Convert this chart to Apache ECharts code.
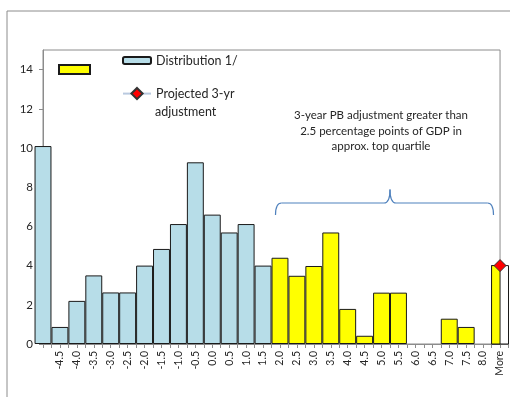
<!DOCTYPE html>
<html>
<head>
<meta charset="utf-8">
<script src="https://cdn.jsdelivr.net/npm/echarts@6/dist/echarts.min.js"></script>
<style>
html,body{margin:0;padding:0;background:#fff;}
#c{width:510px;height:397px;}
</style>
</head>
<body>
<div id="c"></div>
<script>
// ---- data ----
// bin labels (first bin, left of -4.5, is only half visible and unlabelled)
const tickLabels = ['-4.5','-4.0','-3.5','-3.0','-2.5','-2.0','-1.5','-1.0','-0.5','0.0','0.5','1.0','1.5',
                    '2.0','2.5','3.0','3.5','4.0','4.5','5.0','5.5','6.0','6.5','7.0','7.5','8.0','More'];
// Distribution (light blue): first hidden bin, then -4.5 .. 1.5
const distributionValues = [10.1, 0.87, 2.2, 3.5, 2.63, 2.63, 4.0, 4.85, 6.12, 9.27, 6.6, 5.69, 6.12, 4.0];
// Top quartile (yellow): 2.0 .. 8.0
const topQuartileValues = [4.4, 3.48, 3.98, 5.69, 1.79, 0.42, 2.62, 2.62, 0, 0, 1.29, 0.87, 0];
// "More" bin
const moreValue = [4.0];
// Projected 3-yr adjustment (at "More")
const projectedValue = [4.0];
const yTicks = [0, 2, 4, 6, 8, 10, 12, 14];

// ---- layout ----
const FONT = 'Lato';
const gridLeft = 43, gridRight = 1.5, gridTop = 50, gridBottom = 53;
const xMax = 27.5;
const plotW = 510 - gridLeft - gridRight;
const unit = plotW / xMax;

const blueData = distributionValues.map((v, i) => [i, v]);
const yellowStart = distributionValues.length;
const yellowData = topQuartileValues.map((v, i) => [yellowStart + i, v === 0 ? '-' : v]);
const moreIndex = yellowStart + topQuartileValues.length;
const moreData = moreValue.map(v => [moreIndex, v]);
const projData = projectedValue.map(v => [moreIndex, v]);

const braceStyle = {fill: 'none', stroke: '#4f81bd', lineWidth: 1.2};

const chart = echarts.init(document.getElementById('c'), null, {renderer: 'canvas'});
chart.setOption({
  animation: false,
  backgroundColor: '#fff',
  grid: [
    {left: gridLeft, right: gridRight, top: gridTop, bottom: gridBottom},
    {left: gridLeft, right: gridRight + unit * 0.5, top: gridTop, bottom: gridBottom,
     show: true, borderColor: '#8c8c8c', borderWidth: 1, backgroundColor: 'transparent', z: 0}
  ],
  xAxis: [
    {
      type: 'value', gridIndex: 0, min: 0, max: xMax, interval: 0.5,
      splitLine: {show: false},
      axisLine: {lineStyle: {color: '#8c8c8c'}},
      axisTick: {length: 4, lineStyle: {color: '#8c8c8c'}},
      axisLabel: {
        rotate: 90, margin: 7, fontSize: 10.5, fontFamily: FONT, color: '#262626',
        formatter: function (v) {
          if (Math.abs(v - Math.round(v)) > 1e-6) return '';
          const k = Math.round(v);
          return (k >= 1 && k <= tickLabels.length) ? tickLabels[k - 1] : '';
        }
      }
    },
    {type: 'value', gridIndex: 1, min: 0, max: 27, show: false}
  ],
  yAxis: [
    {
      type: 'value', gridIndex: 0, min: 0, max: 15, interval: 2,
      splitLine: {show: false},
      axisLine: {show: true, lineStyle: {color: '#8c8c8c'}},
      axisTick: {show: true, length: 4, lineStyle: {color: '#8c8c8c'}, customValues: yTicks},
      axisLabel: {fontSize: 11.5, fontFamily: FONT, color: '#262626', margin: 10, customValues: yTicks}
    },
    {type: 'value', gridIndex: 1, min: 0, max: 15, show: false}
  ],
  legend: [
    {
      data: ['Distribution 1/'], left: 122, top: 54, padding: 0,
      itemWidth: 28, itemHeight: 7, icon: 'roundRect',
      textStyle: {fontSize: 12.5, fontFamily: FONT, color: '#262626'}
    },
    {
      data: ['Top quartile'], left: 58, top: 64, padding: 0,
      itemWidth: 31, itemHeight: 9, icon: 'rect',
      formatter: function () { return ''; }
    },
    {
      data: ['Projected 3-yr adjustment'], left: 122, top: 87, padding: 0,
      itemWidth: 28, itemHeight: 14,
      formatter: function () { return 'Projected 3-yr'; },
      textStyle: {fontSize: 12.5, fontFamily: FONT, color: '#262626'}
    }
  ],
  series: [
    {
      name: 'Distribution 1/', type: 'bar', xAxisIndex: 0, yAxisIndex: 0,
      data: blueData, barWidth: unit, barGap: '-100%', clip: true,
      itemStyle: {color: '#b7dde8', borderColor: '#1a1a1a', borderWidth: 1}
    },
    {
      name: 'Top quartile', type: 'bar', xAxisIndex: 0, yAxisIndex: 0,
      data: yellowData, barWidth: unit, barGap: '-100%', clip: true,
      itemStyle: {color: '#ffff00', borderColor: '#1a1a1a', borderWidth: 1}
    },
    {
      name: 'More', type: 'custom', xAxisIndex: 0, yAxisIndex: 0, data: moreData, z: 3,
      renderItem: function (params, api) {
        const x = api.value(0), v = api.value(1);
        const pTop = api.coord([x - 0.5, v]);
        const pBR = api.coord([x + 0.5, 0]);
        const pMid = api.coord([x, 0]);
        return {
          type: 'group',
          children: [
            {type: 'rect', shape: {x: pTop[0], y: pTop[1], width: pBR[0] - pTop[0], height: pBR[1] - pTop[1]},
             style: {fill: '#ffffff', stroke: '#1a1a1a', lineWidth: 1}},
            {type: 'rect', shape: {x: pTop[0], y: pTop[1], width: pMid[0] - pTop[0], height: pBR[1] - pTop[1]},
             style: {fill: '#ffff00', stroke: '#1a1a1a', lineWidth: 1}}
          ]
        };
      }
    },
    {
      name: 'Projected 3-yr adjustment', type: 'line', xAxisIndex: 0, yAxisIndex: 0,
      data: projData, symbol: 'diamond', symbolSize: 12, z: 5,
      lineStyle: {color: '#b9c9df', width: 2},
      itemStyle: {color: '#ff0000', borderColor: '#333', borderWidth: 1}
    }
  ],
  graphic: [
    {type: 'rect', silent: true, shape: {x: 7, y: 11, width: 1000, height: 1000},
     style: {fill: 'none', stroke: '#8c8c8c', lineWidth: 1}},
    {type: 'text', silent: true, x: 155, y: 111.5,
     style: {text: 'adjustment', align: 'left', verticalAlign: 'middle', fontSize: 12.5, fontFamily: FONT, fill: '#262626'}},
    {type: 'text', silent: true, x: 381, y: 108,
     style: {text: '3-year PB adjustment greater than\n2.5 percentage points of GDP in\napprox. top quartile',
             align: 'center', verticalAlign: 'top', fontSize: 11.5, lineHeight: 15.5, fontFamily: FONT, fill: '#262626'}},
    {type: 'bezierCurve', silent: true, shape: {x1: 275.5, y1: 215, x2: 281.5, y2: 203, cpx1: 275.5, cpy1: 203}, style: braceStyle},
    {type: 'line', silent: true, shape: {x1: 281.5, y1: 203, x2: 384, y2: 203}, style: braceStyle},
    {type: 'bezierCurve', silent: true, shape: {x1: 384, y1: 203, x2: 390, y2: 189.5, cpx1: 390, cpy1: 203}, style: braceStyle},
    {type: 'bezierCurve', silent: true, shape: {x1: 390, y1: 189.5, x2: 396, y2: 203, cpx1: 390, cpy1: 203}, style: braceStyle},
    {type: 'line', silent: true, shape: {x1: 396, y1: 203, x2: 487.5, y2: 203}, style: braceStyle},
    {type: 'bezierCurve', silent: true, shape: {x1: 487.5, y1: 203, x2: 493.5, y2: 215, cpx1: 493.5, cpy1: 203}, style: braceStyle}
  ]
});
</script>
</body>
</html>
